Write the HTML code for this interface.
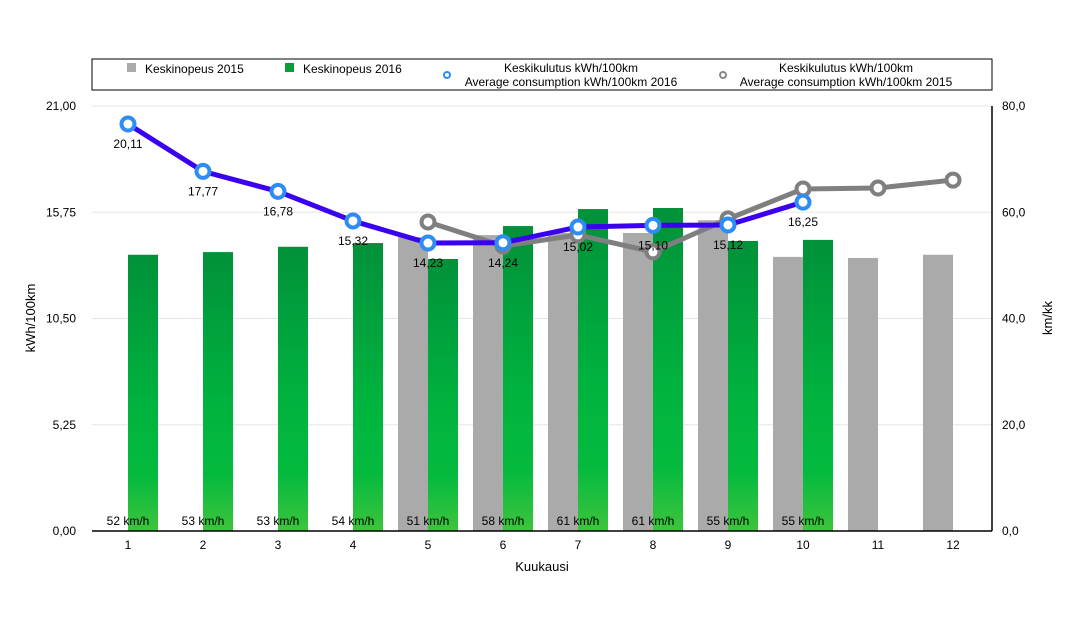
<!DOCTYPE html>
<html><head><meta charset="utf-8"><style>
body{margin:0;background:#fff;width:1089px;height:620px;overflow:hidden}
svg text{font-family:"Liberation Sans",sans-serif}
</style></head><body>
<svg id="c" width="1089" height="620">
<defs><linearGradient id="g" x1="0" y1="0" x2="0" y2="1">
<stop offset="0" stop-color="#01913a"/><stop offset="0.55" stop-color="#00b33e"/><stop offset="0.8" stop-color="#04ba3e"/><stop offset="1" stop-color="#3ec43d"/></linearGradient></defs>
<g id="grid"></g><g id="bars"></g><g id="lines"></g><g id="axes"></g>
<g>
<rect x="92" y="59" width="900" height="31" fill="#fff" stroke="#000" stroke-width="1"/>
<rect x="127" y="63" width="9" height="9" fill="#aaa"/>
<text x="145" y="73" font-size="12">Keskinopeus 2015</text>
<rect x="285" y="63" width="9" height="9" fill="#0a9e3a"/>
<text x="303" y="73" font-size="12">Keskinopeus 2016</text>
<circle cx="447" cy="75" r="3" fill="#fff" stroke="#2b8cff" stroke-width="2"/>
<text x="571" y="72" font-size="12" text-anchor="middle"><tspan x="571">Keskikulutus kWh/100km</tspan><tspan x="571" dy="14">Average consumption kWh/100km 2016</tspan></text>
<circle cx="723" cy="75" r="3" fill="#fff" stroke="#888" stroke-width="2"/>
<text x="846" y="72" font-size="12" text-anchor="middle"><tspan x="846">Keskikulutus kWh/100km</tspan><tspan x="846" dy="14">Average consumption kWh/100km 2015</tspan></text>
</g>
</svg>
<script>
const months=[1,2,3,4,5,6,7,8,9,10,11,12];
const speed2015=[null,null,null,null,55.3,55.7,56.1,56.1,58.5,51.6,51.4,52];
const speed2016=[52,52.5,53.5,54.2,51.2,57.4,60.6,60.8,54.6,54.8];
const speed2016Labels=["52","53","53","54","51","58","61","61","55","55"];
const cons2016=[20.11,17.77,16.78,15.32,14.23,14.24,15.02,15.10,15.12,16.25];
const cons2015=[null,null,null,null,15.27,14.08,14.63,13.79,15.42,16.9,16.95,17.34];
const leftTicks=["0,00","5,25","10,50","15,75","21,00"];
const rightTicks=["0,0","20,0","40,0","60,0","80,0"];
const X0=92,X1=992,Y0=531,Y1=106;
const bw=(X1-X0)/12;
const xc=i=>X0+bw*(i+0.5)-1.5;
const yL=v=>Y0-(v/21)*(Y0-Y1);
const yR=v=>Y0-(v/80)*(Y0-Y1);
const NS="http://www.w3.org/2000/svg";
function mk(t,a,p){const e=document.createElementNS(NS,t);for(const k in a)e.setAttribute(k,a[k]);p.appendChild(e);return e;}
const grid=document.getElementById('grid'),bars=document.getElementById('bars'),lines=document.getElementById('lines'),axes=document.getElementById('axes');
leftTicks.forEach((t,i)=>{const y=Y0-i*(Y0-Y1)/4;
 if(i>0){const g=mk('line',{x1:X0,x2:X1,y1:y,y2:y,stroke:'#e6e6e6'},grid);}
 const a=mk('text',{x:76,y:y+4,'font-size':12,'text-anchor':'end'},axes);a.textContent=t;
 
 
 const b=mk('text',{x:1002,y:y+4,'font-size':12},axes);b.textContent=rightTicks[i];
 
 
});
speed2015.forEach((v,i)=>{if(v==null)return;const r=mk('rect',{x:xc(i)-30,y:yR(v),width:30,height:Y0-yR(v),fill:'#aaa'},bars);
 
 });
speed2016.forEach((v,i)=>{const r=mk('rect',{x:xc(i),y:yR(v),width:30,height:Y0-yR(v),fill:'url(#g)'},bars);
 
 
 const t=mk('text',{x:xc(i),y:525,'font-size':12,'text-anchor':'middle'},bars);t.textContent=speed2016Labels[i]+' km/h';
 
 });
function series(arr,col,mcol,name,labels){
 const pts=arr.map((v,i)=>v==null?null:[xc(i),yL(v)]).filter(p=>p);
 const pl=mk('polyline',{points:pts.map(p=>p.join(',')).join(' '),fill:'none',stroke:col,'stroke-width':5,'stroke-linejoin':'round'},lines);
 
 
 arr.forEach((v,i)=>{if(v==null)return;const c=mk('circle',{cx:xc(i),cy:yL(v),r:6.5,fill:'#fff',stroke:mcol,'stroke-width':4},lines);
  
  
  if(labels){const t=mk('text',{x:xc(i),y:yL(v)+24,'font-size':12,'text-anchor':'middle'},lines);t.textContent=v.toFixed(2).replace('.',',');
  
  }});
}
series(cons2015,'#7f7f7f','#7f7f7f','consumption-2015',false);
series(cons2016,'#3a00f0','#2d8df5','consumption-2016',true);
mk('line',{x1:X0,x2:X1,y1:Y0,y2:Y0,stroke:'#000','stroke-width':1.5},axes);
mk('line',{x1:X1,x2:X1,y1:Y1,y2:Y0,stroke:'#000','stroke-width':1.5},axes);
months.forEach((m,i)=>{const t=mk('text',{x:xc(i),y:549,'font-size':12,'text-anchor':'middle'},axes);t.textContent=m;
 
 });
const xt=mk('text',{x:542,y:571,'font-size':13,'text-anchor':'middle'},axes);xt.textContent='Kuukausi';


const yt=mk('text',{x:0,y:0,'font-size':13,'text-anchor':'middle',transform:'translate(35,318) rotate(-90)'},axes);yt.textContent='kWh/100km';


const yr=mk('text',{x:0,y:0,'font-size':13,'text-anchor':'middle',transform:'translate(1052,318) rotate(-90)'},axes);yr.textContent='km/kk';


</script>
</body></html>
